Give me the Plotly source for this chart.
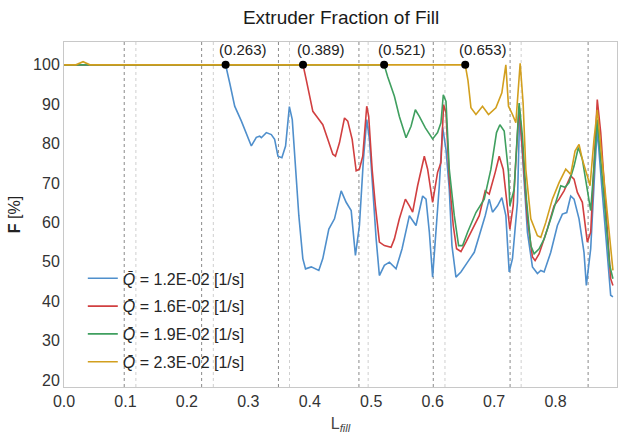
import plotly.graph_objects as go

# Fraction of fill F [%] along the extruder length L_fill, one series per mean shear rate
blue_x = [0.0, 0.263, 0.2697, 0.2778, 0.2887, 0.2968, 0.3049, 0.3130, 0.3184, 0.3212, 0.3293,
          0.3374, 0.3428, 0.3482, 0.3546, 0.3606, 0.3660, 0.3668, 0.3715, 0.3769, 0.3822,
          0.3887, 0.3931, 0.4024, 0.4147, 0.4212, 0.4310, 0.4402, 0.4511, 0.4592, 0.4674,
          0.4743, 0.4808, 0.4873, 0.4927, 0.4971, 0.5036, 0.5080, 0.5133, 0.5214, 0.5296,
          0.5404, 0.5502, 0.5621, 0.5729, 0.5837, 0.5892, 0.5946, 0.5999, 0.6054, 0.6108,
          0.6162, 0.6217, 0.6270, 0.6314, 0.6379, 0.6460, 0.6568, 0.6677, 0.6758, 0.6855,
          0.6920, 0.6974, 0.7055, 0.7126, 0.7191, 0.7245, 0.7299, 0.7380, 0.7416, 0.7461,
          0.7542, 0.7624, 0.7705, 0.7760, 0.7814, 0.7922, 0.8030, 0.8111, 0.8182, 0.8247,
          0.8301, 0.8382, 0.8463, 0.8501, 0.8572, 0.8642, 0.8679, 0.8751, 0.8826, 0.8897,
          0.8934]
blue_y = [100.0, 100.0, 95.4, 89.5, 85.7, 82.3, 79.4, 81.6, 81.9, 81.5, 82.8,
          82.3, 81.1, 76.8, 76.4, 79.4, 89.1, 89.4, 86.1, 73.5, 61.7,
          50.8, 48.2, 48.7, 47.8, 50.8, 58.3, 60.9, 68.0, 65.1, 63.0,
          51.6, 59.2, 76.0, 86.1, 81.1, 65.9, 55.8, 46.5, 49.1, 49.9,
          48.2, 53.3, 61.7, 59.2, 66.7, 65.9, 57.5, 46.1, 57.5, 69.3,
          84.1, 78.5, 68.4, 54.1, 46.1, 47.4, 49.9, 52.4, 56.6, 61.7,
          65.9, 62.6, 64.2, 66.3, 61.7, 47.4, 50.8, 65.1, 88.1, 76.0,
          57.5, 48.7, 47.0, 47.8, 47.4, 52.4, 59.2, 62.1, 62.5, 66.7,
          65.9, 60.9, 52.4, 44.0, 53.3, 74.3, 83.6, 69.3, 54.1, 41.5,
          41.1]

red_x = [0.0, 0.389, 0.3943, 0.3996, 0.4050, 0.4131, 0.4212, 0.4293, 0.4375, 0.4418, 0.4483,
         0.4565, 0.4618, 0.4690, 0.4755, 0.4808, 0.4862, 0.4927, 0.4959, 0.5015, 0.5068,
         0.5133, 0.5214, 0.5323, 0.5377, 0.5458, 0.5556, 0.5621, 0.5674, 0.5755, 0.5864,
         0.5918, 0.5999, 0.6080, 0.6135, 0.6178, 0.6217, 0.6270, 0.6335, 0.6389, 0.6460,
         0.6542, 0.6649, 0.6758, 0.6855, 0.6920, 0.7018, 0.7083, 0.7148, 0.7217, 0.7256,
         0.7310, 0.7407, 0.7461, 0.7542, 0.7624, 0.7667, 0.7732, 0.7867, 0.7976, 0.8057,
         0.8138, 0.8247, 0.8301, 0.8355, 0.8436, 0.8517, 0.8572, 0.8642, 0.8679, 0.8735,
         0.8826, 0.8897, 0.8934]
red_y = [100.0, 100.0, 96.2, 92.0, 88.2, 86.5, 84.8, 81.1, 77.3, 76.8, 80.2,
         86.5, 85.7, 81.1, 73.1, 73.5, 76.8, 89.5, 86.9, 73.5, 64.2,
         55.0, 54.1, 53.7, 55.8, 60.9, 65.9, 64.2, 62.6, 69.3, 76.8,
         73.5, 65.1, 72.7, 75.2, 89.9, 87.8, 71.0, 59.2, 53.3, 52.6,
         55.0, 58.3, 61.7, 68.0, 67.2, 72.7, 76.8, 73.5, 64.2, 58.3,
         64.2, 89.5, 78.5, 60.9, 51.2, 50.3, 52.0, 58.3, 64.2, 65.9,
         68.0, 71.8, 71.0, 67.6, 65.1, 55.0, 57.5, 77.7, 91.2, 82.8,
         61.7, 45.7, 44.0]

green_x = [0.0, 0.521, 0.5268, 0.5377, 0.5458, 0.5567, 0.5648, 0.5718, 0.5783, 0.5881, 0.5999,
           0.6080, 0.6135, 0.6173, 0.6217, 0.6270, 0.6352, 0.6422, 0.6487, 0.6568, 0.6704,
           0.6839, 0.6948, 0.7039, 0.7094, 0.7164, 0.7234, 0.7256, 0.7326, 0.7407, 0.7461,
           0.7526, 0.7597, 0.7651, 0.7732, 0.7814, 0.7922, 0.8003, 0.8085, 0.8155, 0.8220,
           0.8301, 0.8371, 0.8436, 0.8517, 0.8572, 0.8626, 0.8679, 0.8735, 0.8816, 0.8881,
           0.8934]
green_y = [100.0, 100.0, 97.0, 92.0, 86.9, 81.5, 84.4, 88.6, 86.9, 84.0, 81.2,
           82.8, 85.3, 92.4, 90.7, 73.5, 61.7, 54.1, 54.1, 57.5, 62.5,
           65.9, 73.5, 82.8, 84.8, 83.2, 72.7, 64.2, 68.4, 90.3, 81.9,
           65.9, 54.1, 52.0, 53.3, 55.8, 60.9, 65.1, 69.3, 68.9, 70.1,
           74.3, 79.0, 76.0, 68.4, 63.0, 74.3, 86.1, 76.0, 60.9, 49.1,
           45.7]

orange_x = [0.0, 0.0195, 0.031, 0.042, 0.653, 0.6575, 0.6623, 0.6704, 0.6811, 0.6909, 0.7029,
            0.7126, 0.7191, 0.7234, 0.7299, 0.7354, 0.7424, 0.7472, 0.7516, 0.7597, 0.7705,
            0.7760, 0.7841, 0.7948, 0.8057, 0.8166, 0.8247, 0.8317, 0.8382, 0.8436, 0.8517,
            0.8561, 0.8626, 0.8679, 0.8735, 0.8816, 0.8897, 0.8934]
orange_y = [100.0, 100.0, 100.8, 100.0, 100.0, 96.0, 89.1, 87.4, 89.5, 87.4, 89.1,
            92.9, 100.0, 89.5, 87.4, 85.3, 100.4, 90.3, 73.5, 60.9, 56.6,
            56.2, 60.0, 65.9, 70.1, 73.5, 72.2, 78.1, 79.8, 76.0, 71.8,
            69.3, 81.1, 88.6, 79.4, 65.9, 52.4, 47.8]

series_names = ["1.2E-02", "1.6E-02", "1.9E-02", "2.3E-02"]
series_colors = ["#4f8fcc", "#d13f40", "#3f9f5f", "#d29f1e"]

# Fill-front positions where each curve leaves 100 %
breakpoints = [0.263, 0.389, 0.521, 0.653]

# Zone boundaries along the screw (darker and lighter dotted rules)
zone_dark = [0.098, 0.224, 0.349, 0.480, 0.601, 0.726, 0.853]
zone_light = [0.117, 0.243, 0.367, 0.495, 0.620, 0.744]

fig = go.Figure()

xs = [blue_x, red_x, green_x, orange_x]
ys = [blue_y, red_y, green_y, orange_y]
for i, (x, y) in enumerate(zip(xs, ys)):
    fig.add_trace(go.Scatter(
        x=x, y=y, mode="lines",
        name="<i>Q̄</i> = " + series_names[i] + " [1/s]",
        legendgroup="g%d" % i,
        line=dict(color=series_colors[i], width=1.6),
    ))

fig.add_trace(go.Scatter(
    x=breakpoints, y=[100.0] * len(breakpoints), mode="markers",
    marker=dict(color="black", size=8), showlegend=False, hoverinfo="skip",
))

for bp in breakpoints:
    fig.add_annotation(
        x=bp + 0.029, y=104.0, text="(%.3f)" % bp, showarrow=False,
        font=dict(size=15, color="#222222"), xanchor="center", yanchor="middle",
    )

shapes = []
for xv in zone_dark:
    shapes.append(dict(type="line", xref="x", yref="paper", x0=xv, x1=xv, y0=0, y1=1,
                       line=dict(color="#8a8a8a", width=1, dash="dot"), layer="below"))
for xv in zone_light:
    shapes.append(dict(type="line", xref="x", yref="paper", x0=xv, x1=xv, y0=0, y1=1,
                       line=dict(color="#cfcfcf", width=1, dash="dot"), layer="below"))

fig.update_layout(
    width=627, height=438,
    margin=dict(l=64, r=9, t=42, b=49),
    paper_bgcolor="white", plot_bgcolor="white",
    font=dict(family="Liberation Sans, Arial, sans-serif", color="#262626"),
    title=dict(text="Extruder Fraction of Fill", x=0.544, xanchor="center",
               y=0.96, yanchor="middle", font=dict(size=19, color="#1a1a1a")),
    shapes=shapes,
    showlegend=True,
    legend=dict(x=0.034, y=0.022, xanchor="left", yanchor="bottom",
                bgcolor="rgba(255,255,255,0)", font=dict(size=16, color="#262626"),
                tracegroupgap=4, itemwidth=30),
    xaxis=dict(range=[0.0, 0.9], tickvals=[0.0, 0.1, 0.2, 0.3, 0.4, 0.5, 0.6, 0.7, 0.8, 0.9],
               ticktext=["0.0", "0.1", "0.2", "0.3", "0.4", "0.5", "0.6", "0.7", "0.8", "0.9"],
               showgrid=False, zeroline=False, showline=True, mirror=True,
               linecolor="#c8c8c8", linewidth=1, ticks="", tickfont=dict(size=16, color="#333333"),
               title=dict(text="L<sub><i>fill</i></sub>", font=dict(size=16, color="#444444"),
                          standoff=8)),
    yaxis=dict(range=[18.2, 105.8], tickvals=[20, 30, 40, 50, 60, 70, 80, 90, 100],
               showgrid=False, zeroline=False, showline=True, mirror=True,
               linecolor="#c8c8c8", linewidth=1, ticks="", tickfont=dict(size=16, color="#333333"),
               title=dict(text="<b>F</b> [%]", font=dict(size=16, color="#222222"), standoff=8)),
)

fig.write_html("out.html")
